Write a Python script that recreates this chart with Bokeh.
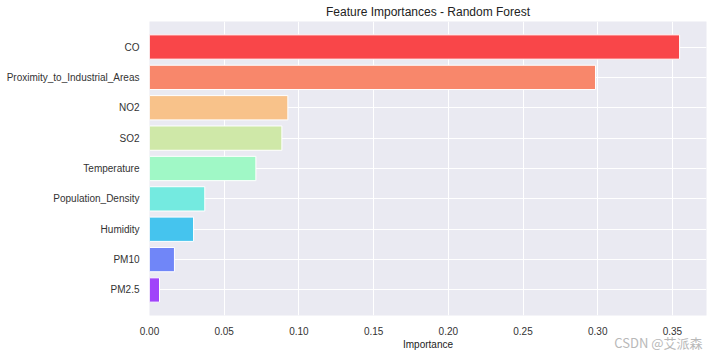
from bokeh.plotting import figure
from bokeh.models import Range1d, FixedTicker, NumeralTickFormatter, Title, ColumnDataSource
from bokeh.embed import file_html
from bokeh.resources import INLINE

# data (bottom to top)
features = ["PM2.5", "PM10", "Humidity", "Population_Density", "Temperature",
            "SO2", "NO2", "Proximity_to_Industrial_Areas", "CO"]
importances = [0.0067, 0.0167, 0.0295, 0.0370, 0.0712, 0.0886, 0.0926, 0.2985, 0.3548]
bar_colors = ["#A044FA", "#7086F8", "#45C4EE", "#74EAE0", "#A0F8C6",
              "#CFE8A8", "#F8C28A", "#F8876B", "#F94649"]
x_ticks = [0.0, 0.05, 0.10, 0.15, 0.20, 0.25, 0.30, 0.35]

FONT = "Liberation Sans"

src = ColumnDataSource(dict(y=list(range(len(features))), v=importances,
                            c=bar_colors, name=features))

p = figure(width=712, height=352, output_backend="svg", toolbar_location=None,
           x_range=Range1d(0, 0.3728), y_range=Range1d(-0.84, 8.84),
           min_border_left=149, min_border_right=6, min_border_top=21,
           min_border_bottom=36)

p.title.text = "Feature Importances - Random Forest"
p.title.align = "center"
p.title.text_font = FONT
p.title.text_font_size = "12px"
p.title.text_font_style = "normal"
p.title.text_color = "#222222"
p.title.standoff = 5

p.hbar(y="y", right="v", left=0, height=0.8, fill_color="c", line_color="white",
       line_width=1, source=src)

p.background_fill_color = "#EAEAF2"
p.border_fill_color = "white"
p.outline_line_color = None

p.xgrid.grid_line_color = "white"
p.ygrid.grid_line_color = "white"
p.xgrid.grid_line_width = 1
p.ygrid.grid_line_width = 1

p.xaxis.ticker = FixedTicker(ticks=x_ticks)
p.xaxis.formatter = NumeralTickFormatter(format="0.00")
p.yaxis.ticker = FixedTicker(ticks=list(range(len(features))))
p.yaxis.major_label_overrides = {i: n for i, n in enumerate(features)}

for ax in (p.xaxis[0], p.yaxis[0]):
    ax.axis_line_color = None
    ax.major_tick_line_color = None
    ax.minor_tick_line_color = None
    ax.major_label_text_font = FONT
    ax.major_label_text_font_size = "10px"
    ax.major_label_text_color = "#333333"

p.xaxis.major_label_standoff = 5
p.yaxis.major_label_standoff = 4
p.xaxis.axis_label = "Importance"
p.xaxis.axis_label_text_font = FONT
p.xaxis.axis_label_text_font_size = "10px"
p.xaxis.axis_label_text_font_style = "normal"
p.xaxis.axis_label_text_color = "#222222"
p.xaxis.axis_label_standoff = 1

wm = Title(text="CSDN @艾派森", align="right", vertical_align="top", standoff=-40,
           offset=4, text_font="Noto Sans CJK SC", text_font_size="13px",
           text_font_style="normal", text_color="#B8B8B8")
p.add_layout(wm, "below")

open("out.html", "w").write(file_html(p, INLINE))
